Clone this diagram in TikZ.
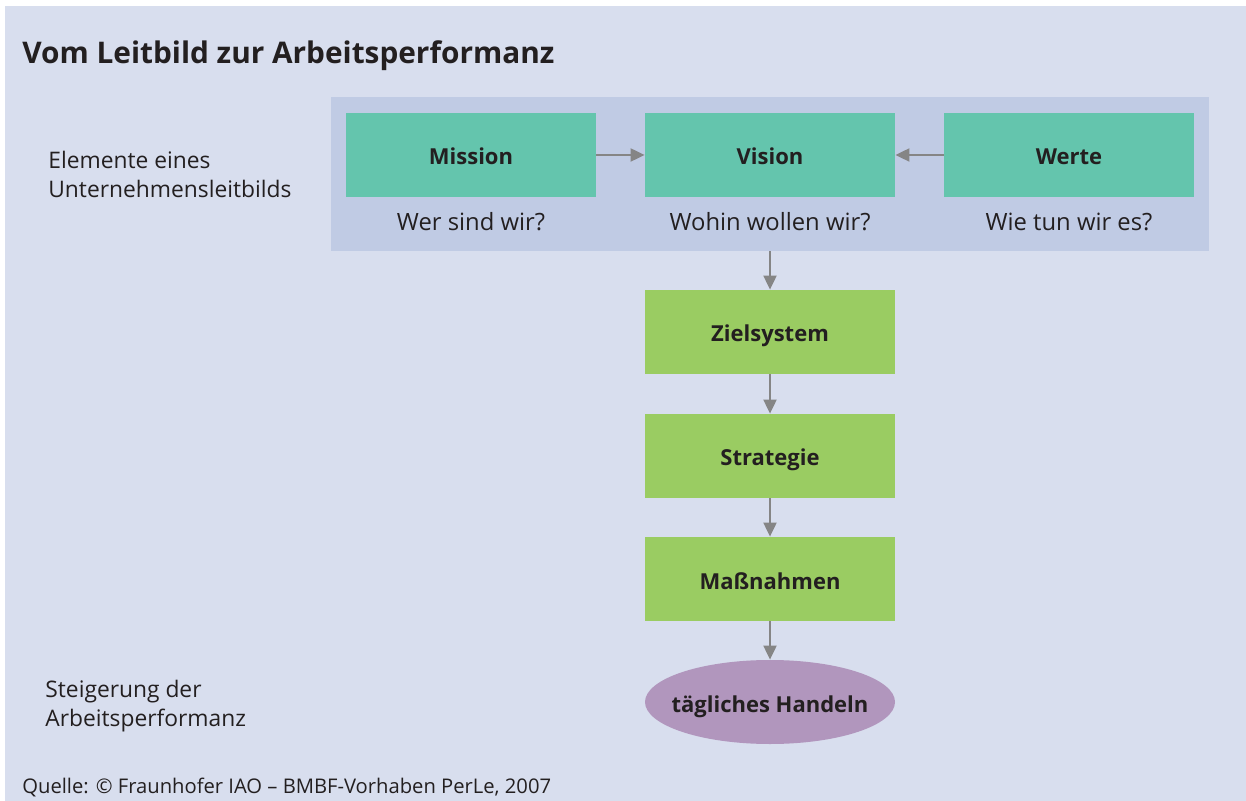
\documentclass[tikz,border=0pt]{standalone}
\usepackage{fontspec}
\setmainfont{Open Sans}
\usetikzlibrary{positioning,arrows.meta,shapes.geometric}
\definecolor{bg}{RGB}{216,222,238}
\definecolor{panelblue}{RGB}{192,203,228}
\definecolor{teal}{RGB}{100,197,173}
\definecolor{leaf}{RGB}{154,204,98}
\definecolor{lilac}{RGB}{177,150,189}
\definecolor{ink}{RGB}{35,31,32}
\definecolor{arrowgray}{RGB}{133,133,133}
\tikzset{%
  box/.style={rectangle, minimum width=125pt, minimum height=42pt, inner sep=0pt,
    text height=10pt, text depth=0pt, text=ink, font=\fontsize{11}{13}\selectfont\bfseries},% flow box
  element/.style={box, fill=teal},% leitbild element
  level/.style={box, fill=leaf},% goal levels
  act/.style={box, ellipse, fill=lilac, inner xsep=-8pt},% daily action
  question/.style={text=ink, font=\fontsize{11.9}{14}\selectfont, anchor=base},% question under element
  side/.style={text=ink, font=\fontsize{11.4}{14.5}\selectfont, align=left, anchor=north west, inner sep=0pt},% left hand labels
  flow/.style={draw=arrowgray, line width=1pt, -{Triangle[length=7pt,width=6.5pt]}}% connector
}
\begin{document}
\begin{tikzpicture}[x=0.5pt, y=-0.5pt]
\useasboundingbox (0,0) rectangle (1246,801);
\fill[bg] (5,6) rectangle (1246,801);
\node[text=ink, font=\fontsize{14.9}{17}\selectfont\bfseries, anchor=base west, inner sep=0pt] (title) at (22,64) {Vom Leitbild zur Arbeitsperformanz};
\node[fill=panelblue, minimum width=439pt, minimum height=77pt, inner sep=0pt] (leit) at (770,174) {};
\node[element] (mission) at (471,155) {Mission};
\node[element] (vision) at (770,155) {Vision};
\node[element] (werte) at (1069,155) {Werte};
\node[question] (qmission) at (471,231) {Wer sind wir?};
\node[question] (qvision) at (770,231) {Wohin wollen wir?};
\node[question] (qwerte) at (1069,231) {Wie tun wir es?};
\node[level] (ziel) at (770,332) {Zielsystem};
\node[level] (strat) at (770,456) {Strategie};
\node[level] (mass) at (770,579) {Maßnahmen};
\node[act] (handeln) at (770,702) {tägliches Handeln};
\node[side] (elemente) at (48,151) {Elemente eines\\Unternehmensleitbilds};
\node[side] (steigerung) at (45,680) {Steigerung der\\Arbeitsperformanz};
\node[text=ink, font=\fontsize{10.1}{12}\selectfont, anchor=base west, inner sep=0pt] (quelle) at (22,793) {Quelle: © Fraunhofer IAO – BMBF-Vorhaben PerLe, 2007};
\draw[flow] (mission) -- (vision);
\draw[flow] (werte) -- (vision);
\draw[flow] (leit) -- (ziel);
\draw[flow] (ziel) -- (strat);
\draw[flow] (strat) -- (mass);
\draw[flow] (mass) -- (handeln);
\end{tikzpicture}
\end{document}
